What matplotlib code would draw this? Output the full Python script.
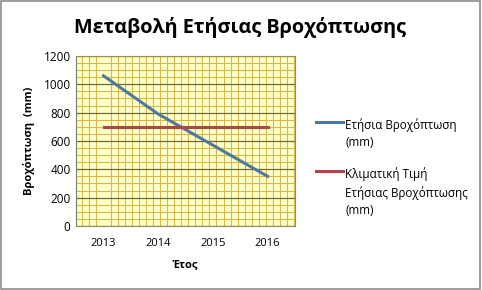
import matplotlib
matplotlib.use("Agg")
import matplotlib.pyplot as plt
from matplotlib.ticker import MultipleLocator
from matplotlib.patches import Rectangle

years = ["2013", "2014", "2015", "2016"]
annual_rain = [1060, 790, 570, 350]
climate_value = [700, 700, 700, 700]
series_names = ["Ετήσια Βροχόπτωση\n(mm)", "Κλιματική Τιμή\nΕτήσιας Βροχόπτωσης\n(mm)"]
yticks = [0, 200, 400, 600, 800, 1000, 1200]

plt.rcParams['font.family'] = ['Open Sans', 'DejaVu Sans']

fig = plt.figure(figsize=(4.82, 2.90), dpi=100)
ax = fig.add_axes([0.158, 0.221, 0.454, 0.586])
ax.set_facecolor("#FFFFC8")

x = list(range(len(years)))
ax.plot(x, annual_rain, color="#4F7A9C", lw=2.2, label=series_names[0], zorder=3)
ax.plot(x, climate_value, color="#A8484A", lw=2.2, label=series_names[1], zorder=3)

ax.set_xlim(-0.5, 3.5)
ax.set_ylim(0, 1200)
ax.set_xticks(x)
ax.set_xticklabels(years, fontsize=8)
ax.set_yticks(yticks)
ax.set_yticklabels([str(v) for v in yticks], fontsize=8.5)

ax.yaxis.set_minor_locator(MultipleLocator(50))
ax.xaxis.set_minor_locator(MultipleLocator(4 / 31))
ax.grid(which="minor", color="#D6B94E", lw=0.8, zorder=1)
ax.grid(which="major", axis="y", color="#6E6A3A", lw=0.9, zorder=2)
ax.grid(which="major", axis="x", visible=False)
ax.tick_params(which="both", length=0)
ax.tick_params(axis="x", pad=9)
ax.tick_params(axis="y", pad=4)

for side in ["top", "right", "bottom"]:
    ax.spines[side].set_color("#9A8F50")
    ax.spines[side].set_linewidth(0.8)
ax.spines["left"].set_color("#7A7A7A")
ax.spines["left"].set_linewidth(0.8)

ax.set_xlabel("Έτος", fontsize=8, fontweight="bold", labelpad=7)
ax.set_ylabel("Βροχόπτωση  (mm)", fontsize=8, fontweight="bold", labelpad=6)

fig.text(0.498, 0.905, "Μεταβολή Ετήσιας Βροχόπτωσης", ha="center", va="center",
         fontsize=14.3, fontweight="bold")

leg = ax.legend(loc="upper left", bbox_to_anchor=(1.05, 0.696), frameon=False,
                fontsize=8.4, handlelength=2.3, handletextpad=0.15,
                labelspacing=1.5)
for t in leg.get_texts():
    t.set_linespacing(1.45)
# align each legend handle with the first line of its label
for col in leg._legend_handle_box.get_children():
    for item in col.get_children():
        item.align = "top"

fig.patches.append(Rectangle((0.002, 0.003), 0.994, 0.994, transform=fig.transFigure,
                             fill=False, edgecolor="#8C8C8C", lw=1.2))

fig.savefig("out.png", dpi=100)
